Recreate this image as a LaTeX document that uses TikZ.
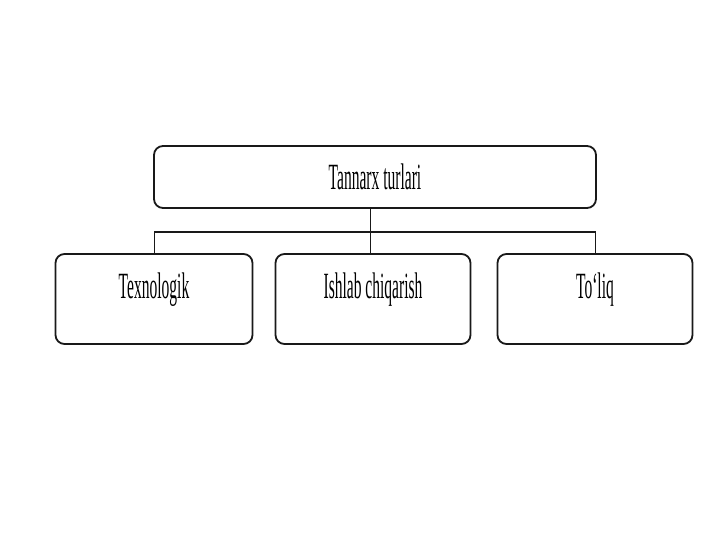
\documentclass[tikz,border=0pt]{standalone}
\usepackage{fontspec}
\newfontfamily\narrowserif[FakeStretch=0.42]{Liberation Serif}
\usetikzlibrary{positioning}

\tikzset{
  kind/.style={draw=black!90, line width=1.8pt, rounded corners=9pt, fill=white},
  kindtext/.style={font=\narrowserif\fontsize{37}{40}\selectfont, inner sep=0pt},
  link/.style={draw=black!90, line width=1pt}
}

\begin{document}
\begin{tikzpicture}[x=1pt, y=-1pt]
        \useasboundingbox (0,0) rectangle (720,540);

        \node[kind, minimum width=442pt, minimum height=62pt] (turlari) at (375,177) {};
        \node[kindtext] at (turlari) {Tannarx turlari};

        \node[kind, minimum width=197pt, minimum height=90pt] (texnologik) at (154,299) {};
        \node[kind, minimum width=195pt, minimum height=90pt] (ishlab) at (373,299) {};
        \node[kind, minimum width=195pt, minimum height=90pt] (toliq) at (595,299) {};

        \node[kindtext] at ([yshift=-37pt]texnologik.north) {Texnologik};
        \node[kindtext] at ([yshift=-37pt]ishlab.north) {Ishlab chiqarish};
        \node[kindtext] at ([yshift=-37pt]toliq.north) {To‘liq};

        \coordinate (bus) at (370,232);
        \draw[link] (turlari.south -| bus) -- (bus);
        \draw[link] (bus) -| (texnologik.north);
        \draw[link] (bus) -| (toliq.north);
        \draw[link] (bus) -- (ishlab.north -| bus);
      \end{tikzpicture}
\end{document}
